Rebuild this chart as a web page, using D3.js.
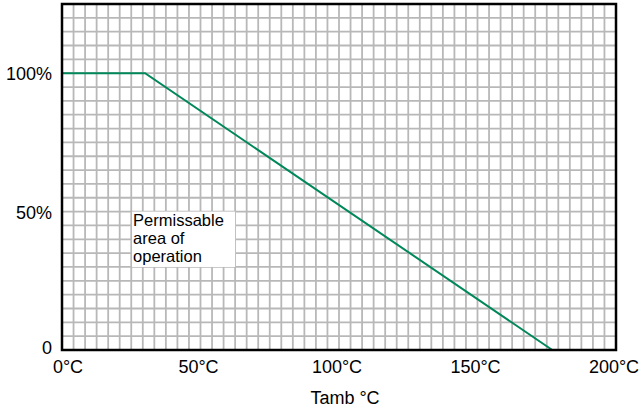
<!DOCTYPE html>
<html><head><meta charset="utf-8">
<script src="https://cdn.jsdelivr.net/npm/d3@7"></script>
<style>html,body{margin:0;padding:0;background:#fff;}svg{display:block;font-family:"Liberation Sans",Arial,sans-serif;}</style>
</head><body>
<svg id="c" width="644" height="413"></svg>
<script>
const temps = [0, 30, 177];
const power = [100, 100, 0];
const xTicks = [0, 50, 100, 150, 200];
const xTickLabels = ["0°C", "50°C", "100°C", "150°C", "200°C"];
const yTicks = [0, 50, 100];
const yTickLabels = ["0", "50%", "100%"];
const xTitle = "Tamb °C";
const noteLines = ["Permissable", "area of", "operation"];
const noteBox = {x0: 25.3, x1: 62.5, y0: 50, y1: 30};

const svg = d3.select("#c");
const x = d3.scaleLinear().domain([0, 200]).range([62, 616]);
const y = d3.scaleLinear().domain([0, 125]).range([350, 4]);

const grid = svg.append("g");
grid.selectAll("line.v").data(d3.range(1, 48)).join("line")
  .attr("x1", i => x(i * 200 / 48)).attr("x2", i => x(i * 200 / 48))
  .attr("y1", y(125)).attr("y2", y(0))
  .attr("stroke", "#b8b8b8").attr("stroke-width", 1.8);
grid.selectAll("line.h").data(d3.range(1, 25)).join("line")
  .attr("y1", i => y(i * 5)).attr("y2", i => y(i * 5))
  .attr("x1", x(0)).attr("x2", x(200))
  .attr("stroke", "#b8b8b8").attr("stroke-width", 1.8);

// annotation box
svg.append("rect")
  .attr("x", x(noteBox.x0)).attr("y", y(noteBox.y0))
  .attr("width", x(noteBox.x1) - x(noteBox.x0))
  .attr("height", y(noteBox.y1) - y(noteBox.y0))
  .attr("fill", "#fff");
svg.append("g").selectAll("text").data(noteLines).join("text")
  .attr("x", x(noteBox.x0) + 1)
  .attr("y", (d, i) => y(noteBox.y0) + 14 + i * 18)
  .attr("font-size", 16.5).attr("fill", "#000")
  .text(d => d);

// line
const pts = temps.map((t, i) => [t, power[i]]);
svg.append("path").datum(pts)
  .attr("d", d3.line().x(d => x(d[0])).y(d => y(d[1])))
  .attr("fill", "none").attr("stroke", "#00875a").attr("stroke-width", 2);

// frame
svg.append("rect").attr("x", x(0)).attr("y", y(125))
  .attr("width", x(200) - x(0)).attr("height", y(0) - y(125))
  .attr("fill", "none").attr("stroke", "#000").attr("stroke-width", 2.5);

// axes labels
svg.append("g").selectAll("text").data(xTicks).join("text")
  .attr("x", d => x(d) + (d === 0 ? 6 : -2)).attr("y", 373)
  .attr("text-anchor", "middle").attr("font-size", 18)
  .text((d, i) => xTickLabels[i]);
svg.append("g").selectAll("text").data(yTicks).join("text")
  .attr("x", 52).attr("y", d => y(d) + (d === 0 ? 4 : 7))
  .attr("text-anchor", "end").attr("font-size", 18)
  .text((d, i) => yTickLabels[i]);
svg.append("text").attr("x", 345).attr("y", 404)
  .attr("text-anchor", "middle").attr("font-size", 18).text(xTitle);
</script>
</body></html>
